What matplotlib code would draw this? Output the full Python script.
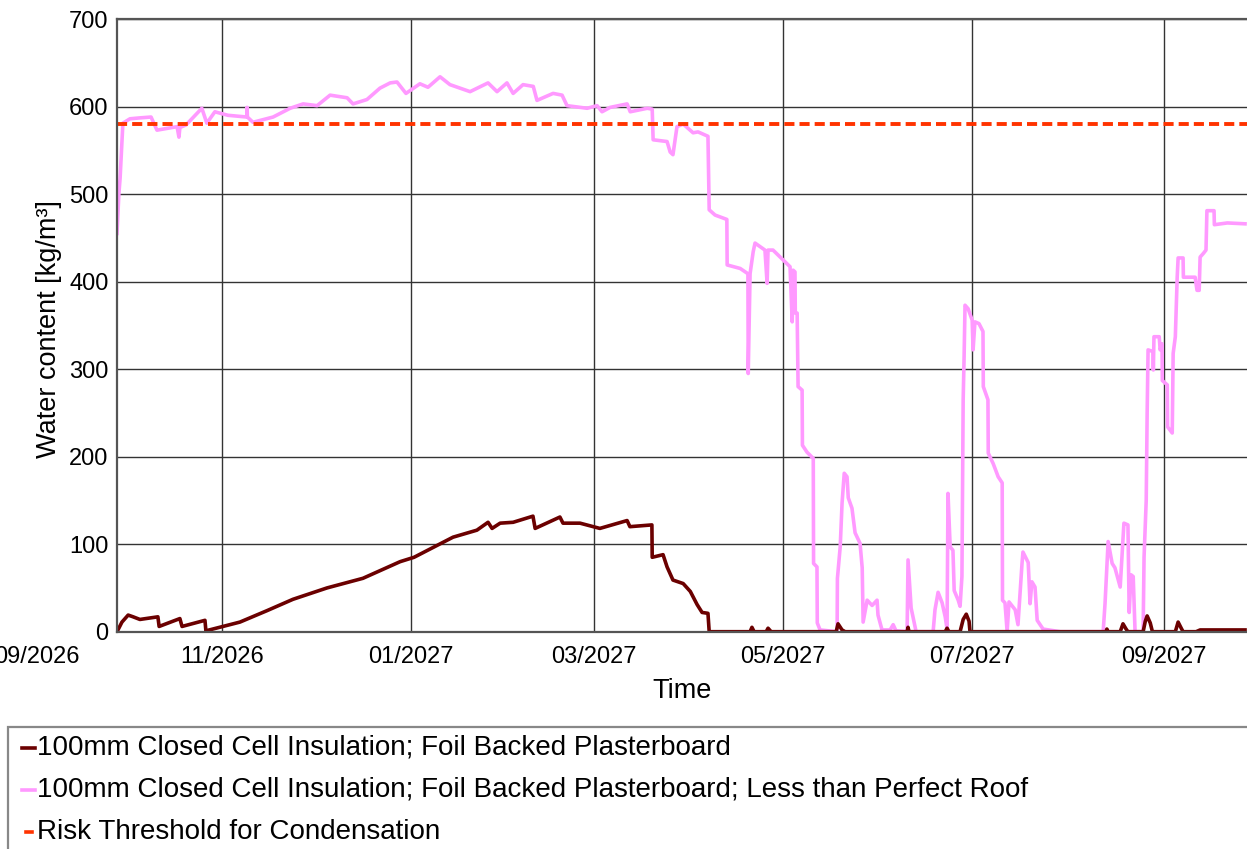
import matplotlib
matplotlib.use("Agg")
import matplotlib.pyplot as plt
import matplotlib.dates as mdates
from matplotlib.lines import Line2D
from matplotlib.patches import Rectangle
import pandas as pd

plt.rcParams['font.family'] = ['Liberation Sans', 'DejaVu Sans']

# Simulation start; all series are given as days since this date
start = pd.Timestamp("2026-09-28")
span_days = 365

# 100mm closed cell insulation, foil backed plasterboard
closed_day = [0.0, 0.3, 1.6, 3.6, 5.2, 7.4, 13.2, 13.6, 20.3, 21.0, 28.4, 28.7,
              34.2, 39.7, 48.4, 56.8, 67.8, 79.4, 91.4, 95.9, 108.5, 116.2, 119.8,
              121.1, 123.7, 127.9, 134.3, 135.0, 143.0, 144.0, 149.5, 155.9, 164.7,
              165.6, 172.7, 172.8, 176.3, 177.6, 179.5, 182.8, 185.1, 187.3, 188.9,
              190.8, 191.2, 204.4, 205.0, 205.7, 209.6, 210.2, 211.2, 232.2, 232.8,
              234.1, 235.1, 255.1, 255.4, 255.7, 267.4, 268.0, 268.6, 272.2, 273.2,
              274.2, 275.1, 275.4, 319.3, 319.6, 320.0, 323.9, 324.8, 325.8, 326.4,
              331.3, 332.0, 332.6, 333.6, 334.3, 341.7, 342.6, 343.6, 344.2, 348.4,
              349.7, 364.2]
closed_wc = [0, 2, 11, 19, 17, 14, 17, 6, 15, 6, 13, 1,
             6, 11, 24, 37, 50, 61, 80, 85, 108, 116, 125,
             118, 124, 125, 132, 118, 131, 124, 124, 118, 127,
             120, 122, 85, 88, 74, 59, 55, 46, 31, 22,
             21, 0, 0, 5, 0, 0, 4, 0, 0, 9,
             2, 0, 0, 5, 0, 0, 4, 0, 0, 14,
             20, 12, 0, 0, 3, 0, 0, 9, 3, 0,
             0, 12, 18, 10, 0, 0, 11, 4, 0, 0,
             2, 2]

# Same build with a less than perfect roof
roof_day = [0.0, 0.6, 1.0, 1.9, 4.2, 7.3, 11.0, 12.9, 19.4, 20.0, 20.3, 22.3,
            27.4, 29.0, 31.6, 35.8, 41.9, 42.0, 42.1, 43.9, 50.4, 55.9, 60.1,
            64.6, 68.8, 74.3, 76.2, 80.7, 84.9, 88.2, 90.4, 93.3, 97.8, 100.4,
            104.3, 107.5, 114.0, 119.8, 122.7, 125.9, 127.9, 131.1, 134.4, 135.6,
            140.8, 143.7, 145.3, 151.8, 155.0, 156.6, 159.2, 164.7, 165.7, 171.2,
            172.8, 173.1, 177.6, 178.6, 179.5, 180.8, 182.8, 186.0, 187.6, 190.8,
            191.2, 193.1, 196.9, 197.0, 201.2, 203.7, 203.8, 204.4, 205.4, 206.0,
            209.2, 209.9, 210.2, 211.8, 214.1, 216.7, 217.3, 218.0, 218.3, 218.9,
            219.0, 219.6, 219.9, 221.2, 221.3, 222.8, 224.8, 224.9, 226.0, 226.1,
            227.0, 232.5, 232.6, 233.5, 234.1, 234.8, 235.7, 236.1, 237.3, 238.3,
            239.9, 240.6, 240.9, 242.2, 243.8, 245.4, 245.7, 247.0, 249.6, 250.6,
            251.5, 255.1, 255.4, 256.4, 257.0, 258.0, 263.5, 264.1, 265.1, 266.4,
            267.4, 268.0, 268.3, 269.0, 269.9, 270.3, 271.6, 272.2, 272.8, 273.2,
            273.5, 273.8, 274.8, 276.1, 276.4, 277.0, 278.3, 279.6, 279.7, 281.2,
            281.3, 282.9, 284.5, 285.8, 285.9, 286.7, 287.4, 288.0, 290.0, 290.9,
            292.2, 292.5, 294.2, 294.8, 295.4, 296.4, 297.1, 299.0, 304.5, 318.4,
            319.0, 320.0, 321.3, 322.2, 323.9, 325.1, 326.4, 326.8, 327.4, 328.1,
            328.7, 331.3, 331.6, 332.3, 332.6, 332.9, 334.5, 334.6, 334.8, 336.5,
            336.8, 337.4, 337.5, 339.1, 339.2, 340.7, 341.0, 341.7, 342.3, 342.6,
            344.2, 344.3, 348.1, 348.7, 349.4, 349.7, 350.7, 351.6, 351.9, 354.2,
            354.3, 358.5, 364.2]
roof_wc = [455, 500, 518, 581, 586, 587, 588, 573, 577, 565, 576, 579,
           598, 581, 594, 590, 588, 599, 588, 582, 588, 598, 603,
           601, 613, 610, 603, 608, 621, 627, 628, 615, 626, 622,
           634, 625, 617, 627, 617, 627, 615, 625, 623, 607,
           615, 613, 601, 598, 601, 594, 599, 603, 594, 598,
           597, 562, 560, 548, 545, 577, 580, 570, 571, 566,
           482, 476, 471, 419, 415, 409, 295, 409, 434, 444,
           436, 398, 436, 436, 428, 419, 417, 354, 413, 411,
           364, 364, 280, 276, 213, 205, 198, 78, 74, 10,
           2, 0, 61, 97, 147, 181, 177, 153, 141, 113,
           101, 73, 11, 36, 30, 36, 19, 2, 2, 8,
           1, 0, 82, 27, 17, 0, 0, 25, 45, 33,
           17, 3, 158, 97, 93, 47, 36, 29, 63, 265,
           314, 373, 369, 356, 322, 354, 352, 343, 280, 265,
           204, 192, 177, 170, 36, 33, 0, 34, 25, 8,
           78, 91, 79, 32, 57, 51, 13, 3, 0, 0,
           32, 103, 78, 73, 51, 124, 122, 22, 65, 63,
           0, 0, 85, 150, 249, 322, 320, 299, 337, 337,
           322, 329, 287, 282, 234, 227, 318, 337, 405, 427,
           427, 405, 405, 390, 390, 428, 432, 436, 481, 481,
           465, 467, 466]

threshold = 580

series_labels = ["100mm Closed Cell Insulation; Foil Backed Plasterboard",
                 "100mm Closed Cell Insulation; Foil Backed Plasterboard; Less than Perfect Roof",
                 "Risk Threshold for Condensation"]
series_colors = ["#6b0000", "#ff99ff", "#ff3300"]

closed_t = start + pd.to_timedelta(closed_day, unit="D")
roof_t = start + pd.to_timedelta(roof_day, unit="D")

W, H = 1247, 849
fig = plt.figure(figsize=(W / 100, H / 100), dpi=100)
ax = fig.add_axes([117 / W, 217.3 / H, 1130.5 / W, 612.7 / H])

ax.plot(roof_t, roof_wc, color=series_colors[1], lw=2.6, zorder=2)
ax.plot(closed_t, closed_wc, color=series_colors[0], lw=2.6, zorder=2.1)
ax.axhline(threshold, color=series_colors[2], lw=2.8, ls=(0, (2.6, 1.3)), zorder=2.2)

ax.set_xlim(start, start + pd.Timedelta(days=span_days))
ax.set_ylim(0, 700)
ax.set_yticks(range(0, 701, 100))
ax.xaxis.set_major_locator(mdates.MonthLocator(bymonth=[1, 3, 5, 7, 9, 11]))
ax.xaxis.set_major_formatter(mdates.DateFormatter("%m/%Y"))

tick_pad = 10.5
ax.tick_params(axis="x", length=0, pad=tick_pad, labelsize=17)
ax.tick_params(axis="y", length=0, pad=6, labelsize=17)
ax.grid(True, color="#333333", lw=1.0)
ax.set_axisbelow(True)

for side in ["left", "bottom", "top"]:
    ax.spines[side].set_color("#555555")
    ax.spines[side].set_linewidth(1.6)
ax.spines["right"].set_visible(False)

# the 09/2026 label sits left of the plotted range, partly off the canvas
ax.annotate("09/2026", xy=(pd.Timestamp("2026-09-02"), 0),
            xycoords=("data", "axes fraction"), xytext=(0, -tick_pad),
            textcoords="offset points", ha="center", va="top",
            fontsize=17, annotation_clip=False)

ax.set_xlabel("Time", fontsize=19.5)
ax.set_ylabel("Water content [kg/m³]", fontsize=19.5)
ax.xaxis.set_label_coords(0.5, -0.075)
ax.yaxis.set_label_coords(-0.0487, 0.494)

# legend box below the plot
fig.patches.append(Rectangle((8 / W, -0.2), 1.5, 0.2 + (H - 727) / H,
                             transform=fig.transFigure, fill=False,
                             edgecolor="#888888", lw=1.6))
rows_y = [748, 790, 832]
handle_x = [(22, 35), (22, 35), (26, 32)]
for label, color, yp, (x0, x1) in zip(series_labels, series_colors, rows_y, handle_x):
    fy = (H - yp) / H
    fig.add_artist(Line2D([x0 / W, x1 / W], [fy, fy], color=color,
                          lw=2.6, transform=fig.transFigure))
    fig.text(37 / W, fy, label, fontsize=20, va="center", ha="left")

fig.savefig("out.png", dpi=100)
